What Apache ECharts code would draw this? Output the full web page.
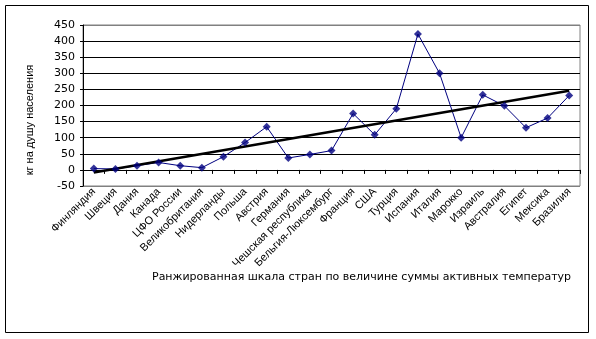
<!DOCTYPE html>
<html>
<head>
<meta charset="utf-8">
<script src="https://cdn.jsdelivr.net/npm/echarts@6/dist/echarts.min.js"></script>
<style>
  html, body { margin: 0; padding: 0; background: #fff; }
  #chart { width: 596px; height: 339px; }
</style>
</head>
<body>
<div id="chart"></div>
<script>
// Countries ranked by sum of active temperatures
const countries = [
  'Финляндия', 'Швеция', 'Дания', 'Канада', 'ЦФО России', 'Великобритания',
  'Нидерланды', 'Польша', 'Австрия', 'Германия', 'Чешская республика',
  'Бельгия-Люксембург', 'Франция', 'США', 'Турция', 'Испания', 'Италия',
  'Марокко', 'Израиль', 'Австралия', 'Египет', 'Мексика', 'Бразилия'
];
// kg per capita
const perCapita = [
  4, 3, 13, 23, 13, 7, 41, 85, 134, 37, 48, 60, 175, 109, 190, 422, 300,
  100, 233, 199, 131, 161, 231
];
// Linear trend: values at the first and last country
const trendEnds = [-8, 246];
const yTicks = { min: -50, max: 450, step: 50 };

const yTitle = 'кг на душу населения';
const xTitle = 'Ранжированная шкала стран по величине суммы активных температур';

const WIDE = 'DejaVu Sans';
const NARROW = 'Liberation Sans';
const nLines = (yTicks.max - yTicks.min) / yTicks.step + 1;
const gridColors = [];
for (let i = 0; i < nLines; i++) {
  gridColors.push(i === 0 || i === nLines - 1 ? '#808080' : '#000000');
}

const chart = echarts.init(document.getElementById('chart'), null, { renderer: 'canvas' });
chart.setOption({
  animation: false,
  backgroundColor: '#ffffff',
  grid: {
    left: 83, right: 16, top: 25, bottom: 153,
    show: true, borderColor: '#808080', borderWidth: 1,
    backgroundColor: 'transparent'
  },
  xAxis: {
    type: 'category',
    data: countries,
    boundaryGap: true,
    axisLine: { onZero: true, lineStyle: { color: '#000', width: 1 } },
    axisTick: { show: true, inside: false, length: 4, alignWithLabel: false,
                lineStyle: { color: '#000' } },
    axisLabel: {
      interval: 0, rotate: 45, margin: 4,
      fontFamily: NARROW, fontSize: 11, color: '#000'
    },
    splitLine: { show: false }
  },
  yAxis: {
    type: 'value',
    min: yTicks.min, max: yTicks.max, interval: yTicks.step,
    axisLine: { show: true, lineStyle: { color: '#000', width: 1 } },
    axisTick: { show: true, length: 3, lineStyle: { color: '#000' } },
    axisLabel: { margin: 8, fontFamily: WIDE, fontSize: 11, color: '#000' },
    splitLine: { show: true, lineStyle: { color: gridColors, width: 1 } }
  },
  series: [
    {
      name: 'perCapitaLine',
      type: 'line',
      data: perCapita,
      symbol: 'none',
      lineStyle: { color: '#000080', width: 1 },
      z: 2
    },
    {
      name: 'trend',
      type: 'line',
      data: [[countries[0], trendEnds[0]], [countries[countries.length - 1], trendEnds[1]]],
      symbol: 'none',
      lineStyle: { color: '#000', width: 2.5 },
      z: 3
    },
    {
      name: 'perCapitaMarks',
      type: 'scatter',
      data: perCapita,
      symbol: 'diamond',
      symbolSize: 8,
      itemStyle: { color: '#000080' },
      z: 4
    }
  ],
  graphic: [
    {
      type: 'rect',
      shape: { x: 5.5, y: 5.5, width: 583, height: 327 },
      style: { fill: 'none', stroke: '#000', lineWidth: 1 },
      silent: true
    },
    {
      type: 'text',
      x: 30, y: 120, rotation: Math.PI / 2,
      style: {
        text: yTitle, fontFamily: NARROW, fontSize: 11, fill: '#000',
        align: 'center', verticalAlign: 'middle'
      }
    },
    {
      type: 'text',
      x: 152, y: 277,
      style: {
        text: xTitle, fontFamily: WIDE, fontSize: 11, fill: '#000',
        align: 'left', verticalAlign: 'middle'
      }
    }
  ]
});
</script>
</body>
</html>
